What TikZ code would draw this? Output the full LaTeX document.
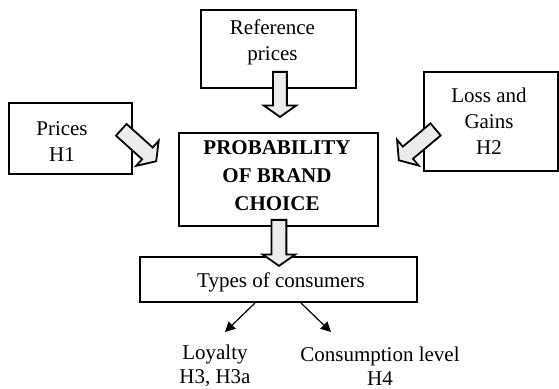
\documentclass[tikz,border=0pt]{standalone}
\usepackage{fontspec}
\setmainfont{Liberation Serif}
\usetikzlibrary{arrows.meta,shapes.arrows}

\tikzset{
    box/.style={draw,line width=1pt,inner sep=0pt},
    txt/.style={align=center,inner sep=1pt,font=\fontsize{10.5}{13}\selectfont},
    fat/.style={single arrow,draw,line width=0.9pt,fill=gray!15,inner xsep=0pt,
        single arrow tip angle=110,anchor=tip},
    pointer/.style={-{Triangle[length=5pt,width=5pt]},line width=0.6pt}
}

\begin{document}
\begin{tikzpicture}[x=0.5pt,y=-0.5pt]
\useasboundingbox (0,0) rectangle (559,389);

    \node [box, minimum width=77.5pt, minimum height=39pt] (ref) at (278.5,49) {};
    \node [box, minimum width=61.5pt, minimum height=35.5pt] (prices) at (70.5,138.5) {};
    \node [box, minimum width=67pt, minimum height=49.5pt] (loss) at (491,121.5) {};
    \node [box, minimum width=99.5pt, minimum height=46.5pt] (prob) at (278.5,179.5) {};
    \node [box, minimum width=138.5pt, minimum height=22.5pt] (types) at (278.5,279.5) {};

    \node [txt] (reftxt) at (272.5,42) {Reference\\prices};
    \node [txt] (pricestxt) at (62,141.5) {Prices\\H1};
    \node [txt] (losstxt) at (489,121) {Loss and\\Gains\\H2};
    \node [txt, font=\bfseries\fontsize{10.5}{14}\selectfont] (probtxt) at (277,176) {PROBABILITY\\OF BRAND\\CHOICE};
    \node [txt] (typestxt) at (281,282) {Types of consumers};
    \node [txt, font=\fontsize{10.5}{12}\selectfont] (loyal) at (215,366) {Loyalty\\H3, H3a};
    \node [txt, font=\fontsize{10.5}{12}\selectfont] (cons) at (380,366) {Consumption level\\H4};

    \node [fat, rotate=-90, minimum height=22.5pt, inner ysep=3pt, single arrow head extend=4.75pt] (down1) at (280,118) {};
    \node [fat, rotate=-90, minimum height=23pt, inner ysep=3.25pt, single arrow head extend=4.5pt] (down2) at (279,267) {};
    \node [fat, rotate=-42, minimum height=23.5pt, inner ysep=3.5pt, single arrow head extend=4.5pt] (left) at (157,162) {};
    \node [fat, rotate=-140, minimum height=24pt, inner ysep=3.5pt, single arrow head extend=4.5pt] (right) at (398,161) {};

    \coordinate (loyaltip) at (225,332);
    \coordinate (constip) at (331,332);
    \draw [pointer] ([xshift=-11.75pt]types.south) -- (loyaltip);
    \draw [pointer] ([xshift=11.25pt]types.south) -- (constip);

\end{tikzpicture}
\end{document}
